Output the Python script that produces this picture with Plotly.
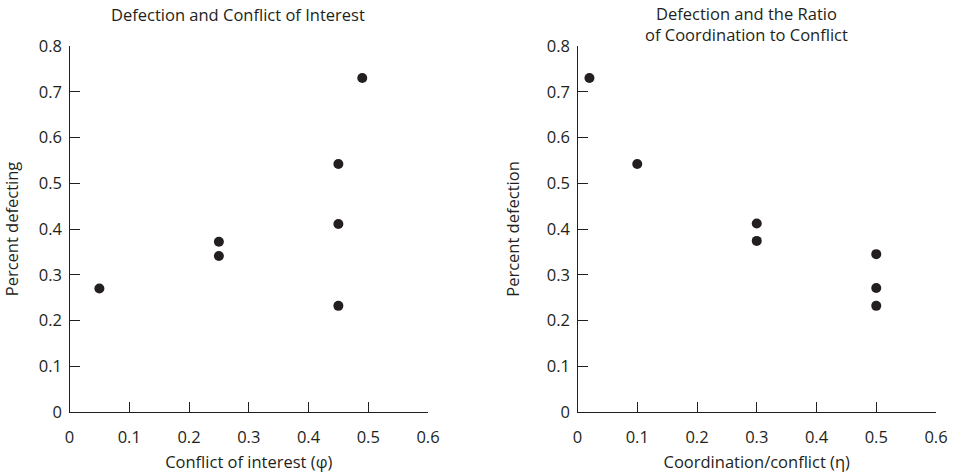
import plotly.graph_objects as go

# Data
conflict_x = [0.05, 0.25, 0.25, 0.45, 0.45, 0.45, 0.49]
conflict_y = [0.27, 0.372, 0.341, 0.542, 0.411, 0.232, 0.73]
ratio_x = [0.02, 0.1, 0.3, 0.3, 0.5, 0.5, 0.5]
ratio_y = [0.73, 0.542, 0.412, 0.374, 0.345, 0.271, 0.232]
x_ticks = [0, 0.1, 0.2, 0.3, 0.4, 0.5, 0.6]
x_ticktext = ["0", "0.1", "0.2", "0.3", "0.4", "0.5", "0.6"]
y_ticks = [0, 0.1, 0.2, 0.3, 0.4, 0.5, 0.6, 0.7, 0.8]
y_ticktext = ["0", "0.1", "0.2", "0.3", "0.4", "0.5", "0.6", "0.7", "0.8"]

W, H = 955, 475
INK = "#231f20"
FONT = "Open Sans"
FS = 16.5


def px(x):
    return x / W


def py(y):
    return 1 - y / H


fig = go.Figure()
fig.add_trace(go.Scatter(x=conflict_x, y=conflict_y, mode="markers",
                         marker=dict(size=10, color=INK), xaxis="x", yaxis="y",
                         showlegend=False, cliponaxis=False))
fig.add_trace(go.Scatter(x=ratio_x, y=ratio_y, mode="markers",
                         marker=dict(size=10, color=INK), xaxis="x2", yaxis="y2",
                         showlegend=False, cliponaxis=False))

ydom = [py(412), py(46)]
common_x = dict(range=[0, 0.6], tickvals=x_ticks, ticktext=x_ticktext,
                ticks="inside", ticklen=10, tickwidth=1.2, tickcolor=INK,
                showline=True, linecolor=INK, linewidth=1.3, showgrid=False,
                zeroline=False, ticklabelstandoff=10, automargin=False,
                tickfont=dict(family=FONT, size=FS, color=INK),
                title_font=dict(family=FONT, size=FS, color=INK), title_standoff=9)
common_y = dict(range=[0, 0.8], tickvals=y_ticks, ticktext=y_ticktext,
                ticks="inside", ticklen=10, tickwidth=1.2, tickcolor=INK,
                showline=True, linecolor=INK, linewidth=1.3, showgrid=False,
                zeroline=False, ticklabelstandoff=3, automargin=False,
                tickfont=dict(family=FONT, size=FS, color=INK),
                title_font=dict(family=FONT, size=FS, color=INK), title_standoff=23)

fig.update_layout(
    width=W, height=H,
    margin=dict(l=0, r=0, t=0, b=0),
    paper_bgcolor="white", plot_bgcolor="white",
    hovermode=False,
    xaxis=dict(domain=[px(69.5), px(428)], anchor="y",
               title_text="Conflict of interest (φ)", **common_x),
    yaxis=dict(domain=ydom, anchor="x", title_text="Percent defecting", **common_y),
    xaxis2=dict(domain=[px(577.5), px(936)], anchor="y2",
                title_text="Coordination/conflict (η)", **common_x),
    yaxis2=dict(domain=ydom, anchor="x2", title_text="Percent defection", **common_y),
    annotations=[
        dict(text="Defection and Conflict of Interest", x=px(238), y=py(14),
             xref="paper", yref="paper", showarrow=False, xanchor="center", yanchor="middle",
             font=dict(family=FONT, size=FS, color=INK)),
        dict(text="Defection and the Ratio<br>of Coordination to Conflict", x=px(746.5), y=py(23.5),
             xref="paper", yref="paper", showarrow=False, xanchor="center", yanchor="middle",
             align="center", font=dict(family=FONT, size=FS, color=INK)),
    ],
)

fig.write_html("out.html", config={"displayModeBar": False},
               post_script="document.body.style.margin='0';")
